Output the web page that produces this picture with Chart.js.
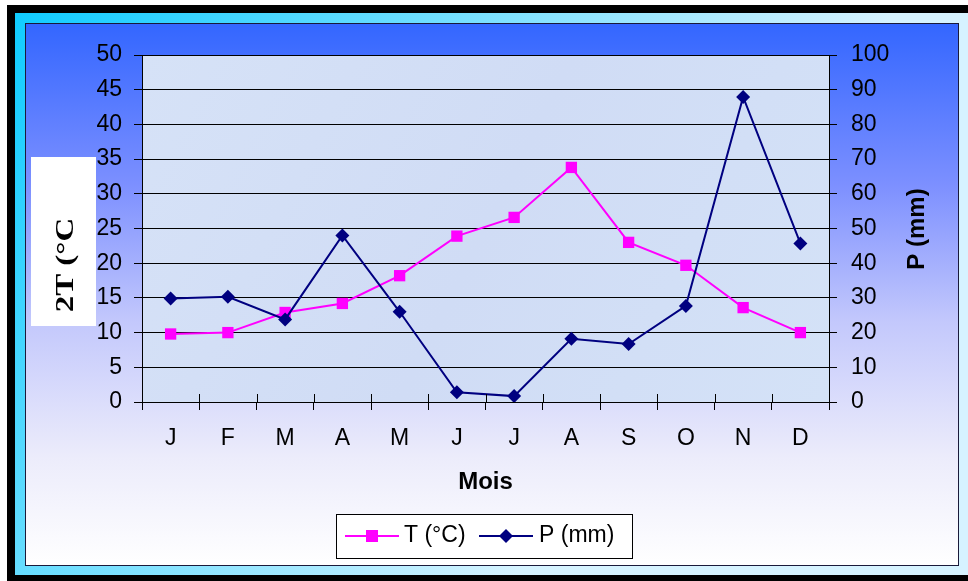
<!DOCTYPE html>
<html>
<head>
<meta charset="utf-8">
<script src="https://cdn.jsdelivr.net/npm/chart.js@4"></script>
<style>
  body { margin: 0; background: #fff; }
</style>
</head>
<body>
<canvas id="myChart" width="968" height="581"></canvas>
<script>
// data
const months = ['J', 'F', 'M', 'A', 'M', 'J', 'J', 'A', 'S', 'O', 'N', 'D'];
const tempValues = [9.8, 10.0, 12.9, 14.2, 18.2, 23.9, 26.6, 33.8, 23.0, 19.7, 13.6, 10.0];
const rainValues = [29.8, 30.3, 23.8, 48.0, 26.0, 2.8, 1.7, 18.2, 16.7, 27.7, 87.9, 45.7];
const tempLabel = 'T (°C)';
const rainLabel = 'P (mm)';
const leftTitle = '2T (°C';
const xTitle = 'Mois';

const tickFont = { family: 'Arial, "Liberation Sans", sans-serif', size: 23 };

// frame, blue panel and plot background
const backgroundPlugin = {
  id: 'frameBackground',
  beforeDraw: (chart) => {
    const ctx = chart.ctx;
    const area = chart.chartArea;
    ctx.save();
    ctx.fillStyle = '#fff';
    ctx.fillRect(0, 0, chart.width, chart.height);
    // black outer frame
    ctx.fillStyle = '#000';
    ctx.fillRect(7, 5, 990, 600);
    // cyan band
    const cyan = ctx.createLinearGradient(15, 13, 620, 420);
    cyan.addColorStop(0, '#10ccff');
    cyan.addColorStop(1, '#d6f3ff');
    ctx.fillStyle = cyan;
    ctx.fillRect(15, 13, 980, 562);
    // blue panel
    const panel = ctx.createLinearGradient(0, 23, 0, 566);
    panel.addColorStop(0, '#3366ff');
    panel.addColorStop(0.3, '#7d90ff');
    panel.addColorStop(0.55, '#c3c8fc');
    panel.addColorStop(0.8, '#ececfb');
    panel.addColorStop(1, '#ffffff');
    ctx.fillStyle = panel;
    ctx.fillRect(25, 23, 934, 543);
    ctx.strokeStyle = '#1a1a3a';
    ctx.lineWidth = 1;
    ctx.strokeRect(25.5, 23.5, 933, 542);
    // plot area (light blue / lavender paper)
    const paper = ctx.createLinearGradient(area.left, area.top, area.right, area.bottom);
    paper.addColorStop(0, '#d6e2f7');
    paper.addColorStop(0.5, '#d0dcf5');
    paper.addColorStop(1, '#d4e2f7');
    ctx.fillStyle = paper;
    ctx.fillRect(area.left, area.top, area.right - area.left, area.bottom - area.top);
    ctx.restore();
  }
};

// x tick marks also cross the axis line upward
const xTickPlugin = {
  id: 'xTicksInside',
  afterDraw: (chart) => {
    const ctx = chart.ctx;
    const xs = chart.scales.x;
    const step = (xs.right - xs.left) / months.length;
    ctx.save();
    ctx.strokeStyle = '#000';
    ctx.lineWidth = 1;
    ctx.beginPath();
    for (let i = 0; i <= months.length; i++) {
      const px = Math.round(xs.left + i * step) + 0.5;
      ctx.moveTo(px, xs.top - 8);
      ctx.lineTo(px, xs.top);
    }
    ctx.stroke();
    ctx.restore();
  }
};

// axis titles and legend drawn by hand (legend has line + marker)
const overlayPlugin = {
  id: 'titlesAndLegend',
  afterDraw: (chart) => {
    const ctx = chart.ctx;
    const dsT = chart.data.datasets[0];
    const dsP = chart.data.datasets[1];

    // left title on white box
    ctx.save();
    ctx.fillStyle = '#fff';
    ctx.fillRect(31, 157, 65, 169);
    ctx.translate(67, 265);
    ctx.rotate(-Math.PI / 2);
    ctx.scale(1.22, 0.9);
    ctx.fillStyle = '#000';
    ctx.font = 'bold 27px "Liberation Serif", "Times New Roman", serif';
    ctx.textAlign = 'center';
    ctx.textBaseline = 'middle';
    ctx.fillText(leftTitle, 0, 0);
    ctx.restore();

    // right title
    ctx.save();
    ctx.translate(917, 229);
    ctx.rotate(-Math.PI / 2);
    ctx.fillStyle = '#000';
    ctx.font = 'bold 24px Arial, "Liberation Sans", sans-serif';
    ctx.textAlign = 'center';
    ctx.textBaseline = 'middle';
    ctx.fillText(rainLabel, 0, 0);
    ctx.restore();

    // legend box
    ctx.save();
    ctx.fillStyle = '#fff';
    ctx.fillRect(336, 514, 296, 44);
    ctx.strokeStyle = '#000';
    ctx.lineWidth = 1;
    ctx.strokeRect(336.5, 514.5, 296, 44);
    const ly = 536;
    ctx.lineWidth = 2;
    // T item
    ctx.strokeStyle = dsT.borderColor;
    ctx.beginPath();
    ctx.moveTo(345, ly);
    ctx.lineTo(399, ly);
    ctx.stroke();
    ctx.fillStyle = dsT.pointBackgroundColor;
    ctx.fillRect(366, ly - 6, 12, 12);
    // P item
    ctx.strokeStyle = dsP.borderColor;
    ctx.beginPath();
    ctx.moveTo(479, ly);
    ctx.lineTo(533, ly);
    ctx.stroke();
    ctx.fillStyle = dsP.pointBackgroundColor;
    ctx.beginPath();
    ctx.moveTo(506, ly - 7);
    ctx.lineTo(513, ly);
    ctx.lineTo(506, ly + 7);
    ctx.lineTo(499, ly);
    ctx.closePath();
    ctx.fill();
    ctx.fillStyle = '#000';
    ctx.font = '23px Arial, "Liberation Sans", sans-serif';
    ctx.textAlign = 'left';
    ctx.textBaseline = 'middle';
    ctx.fillText(dsT.label, 404, ly);
    ctx.fillText(dsP.label, 539, ly);
    ctx.restore();
  }
};

const config = {
  type: 'line',
  data: {
    labels: months,
    datasets: [
      {
        label: tempLabel,
        data: tempValues,
        borderColor: '#ff00ff',
        borderWidth: 2,
        pointStyle: 'rect',
        pointRadius: 8,
        pointHoverRadius: 8,
        pointBackgroundColor: '#ff00ff',
        pointBorderColor: '#ff00ff',
        pointBorderWidth: 0,
        tension: 0,
        yAxisID: 'y',
        order: 2
      },
      {
        label: rainLabel,
        data: rainValues,
        borderColor: '#000080',
        borderWidth: 2,
        pointStyle: 'rectRot',
        pointRadius: 7,
        pointHoverRadius: 7,
        pointBackgroundColor: '#000080',
        pointBorderColor: '#000080',
        pointBorderWidth: 0,
        tension: 0,
        yAxisID: 'y1',
        order: 1
      }
    ]
  },
  options: {
    responsive: false,
    animation: false,
    events: [],
    layout: {
      padding: { left: 30, right: 0, top: 55, bottom: 79 }
    },
    plugins: {
      legend: { display: false },
      tooltip: { enabled: false },
      title: { display: false }
    },
    scales: {
      x: {
        offset: true,
        grid: {
          offset: true,
          drawOnChartArea: false,
          tickLength: 8,
          color: '#000'
        },
        border: { color: '#000', width: 1 },
        ticks: { color: '#000', font: tickFont, padding: 15, maxRotation: 0 },
        title: {
          display: true,
          text: xTitle,
          color: '#000',
          font: { family: 'Arial, "Liberation Sans", sans-serif', size: 24, weight: 'bold' },
          padding: { top: 0, bottom: 5 }
        },
        afterFit: (scale) => { scale.height = 100; }
      },
      y: {
        position: 'left',
        min: 0,
        max: 50,
        ticks: { stepSize: 5, color: '#000', font: tickFont, padding: 12 },
        grid: { color: '#000', lineWidth: 1, tickLength: 8 },
        border: { color: '#000', width: 1 },
        afterFit: (scale) => { scale.width = 112; }
      },
      y1: {
        position: 'right',
        min: 0,
        max: 100,
        ticks: { stepSize: 10, color: '#000', font: tickFont, padding: 14 },
        grid: { drawOnChartArea: false, color: '#000', tickLength: 8 },
        border: { color: '#000', width: 1 },
        afterFit: (scale) => { scale.width = 139; }
      }
    }
  },
  plugins: [backgroundPlugin, xTickPlugin, overlayPlugin]
};

const chart = new Chart(document.getElementById('myChart').getContext('2d'), config);
</script>
</body>
</html>
